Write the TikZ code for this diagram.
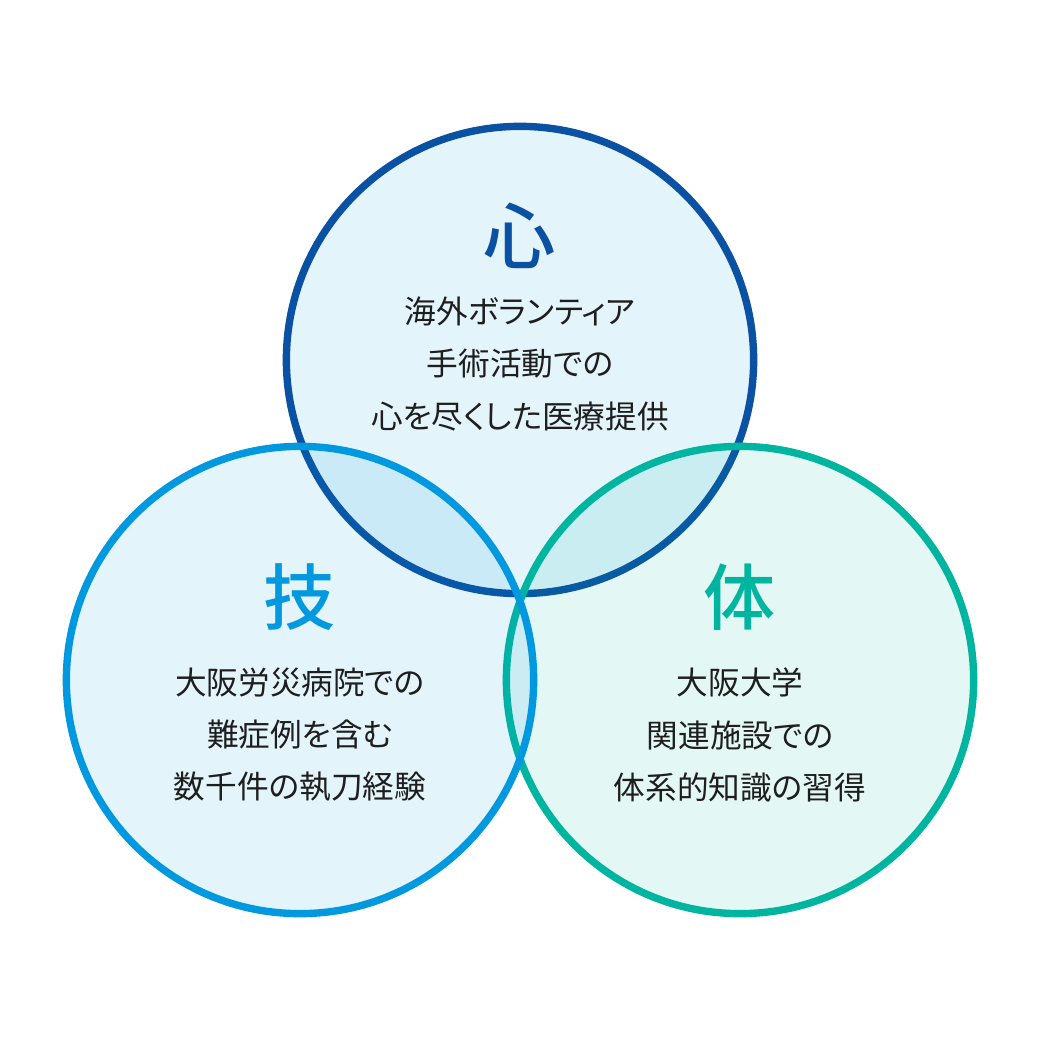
\documentclass[tikz,border=0pt]{standalone}
\usepackage{fontspec}
\newfontfamily\jpfont{Noto Sans CJK JP}[RawFeature=+palt]
\newfontfamily\jpmedium{Noto Sans CJK JP Medium}
\usetikzlibrary{positioning}
\definecolor{kokoroblue}{RGB}{10,80,163}
\definecolor{giblue}{RGB}{0,152,222}
\definecolor{taigreen}{RGB}{0,181,160}
\definecolor{bodytext}{RGB}{30,30,30}
\tikzset{
  ring/.style={circle, draw, line width=2.1pt, minimum size=4.67cm, inner sep=0pt, fill opacity=0.11},
  head/.style={font=\jpmedium\fontsize{20.5}{20.5}\selectfont},
  body/.style={align=center, text=bodytext, font=\jpfont\fontsize{9}{14.8}\selectfont}}

\begin{document}
\begin{tikzpicture}[x=0.01cm, y=-0.01cm]
  \useasboundingbox (0,0) rectangle (1040,1040);
  % three circles
  \node[ring, draw=kokoroblue, fill=giblue] (kokoro) at (520,360) {};
  \node[ring, draw=taigreen, fill=taigreen] (tai) at (740,680) {};
  \node[ring, draw=giblue, fill=giblue] (gi) at (300,680) {};
  % labels
  \node[head, text=kokoroblue] (kokoroh) at (520,236) {心};
  \node[body] (kokorot) at (520,364) {海外ボランティア\\手術活動での\\心を尽くした医療提供};
  \node[head, text=giblue] (gih) at (300,597) {技};
  \node[body] (git) at (300,735) {大阪労災病院での\\難症例を含む\\数千件の執刀経験};
  \node[head, text=taigreen] (taih) at (740,597) {体};
  \node[body] (tait) at (740,735) {大阪大学\\関連施設での\\体系的知識の習得};
\end{tikzpicture}
\end{document}
